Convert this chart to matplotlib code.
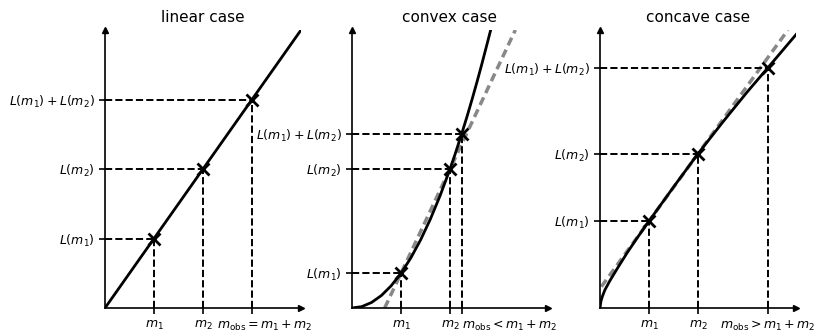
"""
plot.py - linear / convex / concave case sketch
"""

import matplotlib
matplotlib.use('Agg')
import matplotlib.pyplot as plt
import matplotlib.transforms as mtransforms

# linear case
lin_curve_x = [0.0, 4.0]
lin_curve_y = [0.0, 4.0]
lin_m = [1.0, 2.0, 3.0]
lin_L = [1.0, 2.0, 3.0]

# convex case
cvx_curve_x = [0.0, 0.2, 0.4, 0.6, 0.8, 1.0, 1.2, 1.4, 1.6, 1.8, 2.0, 2.1, 2.236, 2.35,
               2.45, 2.55, 2.65, 2.75, 2.83]
cvx_curve_y = [0.0, 0.02, 0.08, 0.18, 0.32, 0.5, 0.72, 0.98, 1.28, 1.62, 2.0, 2.205, 2.5,
               2.761, 3.001, 3.251, 3.511, 3.781, 4.0]
cvx_m = [1.0, 2.0, 2.236]
cvx_L = [0.5, 2.0, 2.5]

# concave case
ccv_curve_x = [0.0, 0.02, 0.05, 0.1, 0.2, 0.35, 0.55, 0.75, 1.0, 1.5, 2.0, 2.5, 3.0, 3.43, 4.02]
ccv_curve_y = [0.0, 0.10, 0.17, 0.26, 0.39, 0.565, 0.79, 1.0, 1.25, 1.74, 2.22, 2.67, 3.105, 3.46, 3.95]
ccv_m = [1.0, 2.0, 3.43]
ccv_L = [1.25, 2.22, 3.46]

titles = ['linear case', 'convex case', 'concave case']
x_labels = [
    [r'$m_1$', r'$m_2$', r'$m_{\mathrm{obs}} = m_1 + m_2$'],
    [r'$m_1$', r'$m_2$', r'$m_{\mathrm{obs}} < m_1 + m_2$'],
    [r'$m_1$', r'$m_2$', r'$m_{\mathrm{obs}} > m_1 + m_2$'],
]
y_labels = [r'$L(m_1)$', r'$L(m_2)$', r'$L(m_1) + L(m_2)$']
# horizontal shift (points) of the m_obs label so it clears the m_2 label
obs_label_shift = [9, 35, 0]

panels = [
    (lin_curve_x, lin_curve_y, lin_m, lin_L, False),
    (cvx_curve_x, cvx_curve_y, cvx_m, cvx_L, True),
    (ccv_curve_x, ccv_curve_y, ccv_m, ccv_L, True),
]

fig = plt.figure(figsize=(8.19, 3.31), dpi=100)
lefts = [105 / 819, 352 / 819, 600 / 819]

for idx, (cx, cy, ms, Ls, chord) in enumerate(panels):
    ax = fig.add_axes([lefts[idx], 23 / 331, 196 / 819, 278 / 331])
    ax.set_xlim(0, 4)
    ax.set_ylim(0, 4)
    for side in ['top', 'right']:
        ax.spines[side].set_visible(False)
    for side in ['left', 'bottom']:
        ax.spines[side].set_linewidth(1.2)
    ax.plot(1, 0, '>k', ms=4, transform=ax.get_yaxis_transform(), clip_on=False)
    ax.plot(0, 1, '^k', ms=4, transform=ax.get_xaxis_transform(), clip_on=False)

    if chord:
        slope = (Ls[1] - Ls[0]) / (ms[1] - ms[0])
        x0 = ms[0] - Ls[0] / slope
        x_end = ms[0] + (4 - Ls[0]) / slope
        ax.plot([x0, x_end], [0, 4], '--', color='#888888', lw=2.5, dashes=(2.4, 1.4))

    ax.plot(cx, cy, color='black', lw=2)
    for m, L in zip(ms, Ls):
        ax.plot([0, m], [L, L], '--', color='black', lw=1.4)
        ax.plot([m, m], [0, L], '--', color='black', lw=1.4)
    ax.plot(ms, Ls, 'x', color='black', ms=9, mew=2)

    ax.set_xticks(ms)
    ax.set_xticklabels(x_labels[idx], fontsize=9)
    ax.set_yticks(Ls)
    ax.set_yticklabels(y_labels, fontsize=9)
    ax.tick_params(width=1.2, length=4)
    ax.set_title(titles[idx], fontsize=11)

    obs_label = ax.get_xticklabels()[-1]
    shift = mtransforms.ScaledTranslation(obs_label_shift[idx] / 72, 0, fig.dpi_scale_trans)
    obs_label.set_transform(obs_label.get_transform() + shift)

plt.savefig('out.png', dpi=100)
plt.close(fig)
